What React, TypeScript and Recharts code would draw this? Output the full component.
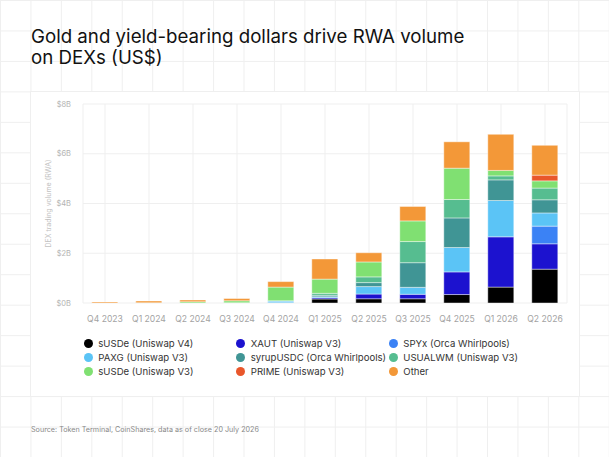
import React from 'react'
import { BarChart, Bar, XAxis, YAxis, CartesianGrid } from 'recharts'

const quarters = ['Q4 2023', 'Q1 2024', 'Q2 2024', 'Q3 2024', 'Q4 2024', 'Q1 2025', 'Q2 2025', 'Q3 2025', 'Q4 2025', 'Q1 2026', 'Q2 2026']

// volumes in US$ billions
const susdeV4 = [0, 0, 0, 0, 0, 0.16, 0.17, 0.17, 0.34, 0.64, 1.36]
const xaut = [0, 0, 0, 0, 0.01, 0.05, 0.19, 0.18, 0.91, 2.02, 1.02]
const spyx = [0, 0, 0, 0, 0, 0, 0, 0, 0, 0, 0.71]
const paxg = [0, 0, 0, 0, 0.07, 0.04, 0.3, 0.28, 0.98, 1.46, 0.53]
const syrupUsdc = [0, 0, 0, 0, 0, 0.06, 0.16, 0.99, 1.19, 0.83, 0.53]
const usualwm = [0, 0, 0, 0.01, 0.01, 0.08, 0.23, 0.85, 0.74, 0.16, 0.47]
const susdeV3 = [0, 0.01, 0.05, 0.08, 0.55, 0.57, 0.6, 0.83, 1.26, 0.22, 0.29]
const prime = [0, 0, 0, 0, 0, 0, 0, 0, 0, 0, 0.23]
const other = [0.04, 0.07, 0.07, 0.09, 0.22, 0.81, 0.37, 0.58, 1.06, 1.45, 1.2]

const yTicks = [0, 2, 4, 6, 8]

const series = [
  { key: 'susdeV4', name: 'sUSDe (Uniswap V4)', color: '#000000', values: susdeV4 },
  { key: 'xaut', name: 'XAUT (Uniswap V3)', color: '#1c12cf', values: xaut },
  { key: 'spyx', name: 'SPYx (Orca Whirlpools)', color: '#3b82f5', values: spyx },
  { key: 'paxg', name: 'PAXG (Uniswap V3)', color: '#5bc4f6', values: paxg },
  { key: 'syrupUsdc', name: 'syrupUSDC (Orca Whirlpools)', color: '#409595', values: syrupUsdc },
  { key: 'usualwm', name: 'USUALWM (Uniswap V3)', color: '#56bd90', values: usualwm },
  { key: 'susdeV3', name: 'sUSDe (Uniswap V3)', color: '#80e072', values: susdeV3 },
  { key: 'prime', name: 'PRIME (Uniswap V3)', color: '#e9572b', values: prime },
  { key: 'other', name: 'Other', color: '#f39838', values: other },
]

const data = quarters.map((q, i) => {
  const row: Record<string, string | number> = { quarter: q }
  series.forEach((s) => { row[s.key] = s.values[i] })
  return row
})

const font = 'Inter, "Noto Sans", sans-serif'

const App = () => {
  return (
    <div style={{
      position: 'absolute', left: 0, top: 0, width: 609, height: 457, overflow: 'hidden',
      fontFamily: font, background: '#fff',
      backgroundImage: 'linear-gradient(to right, #efefef 1px, transparent 1px), linear-gradient(to bottom, #efefef 1px, transparent 1px)',
      backgroundSize: '30.45px 30.47px',
    }}>
      <div style={{ position: 'absolute', left: 30, top: 91, width: 548, height: 304, background: '#fff', border: '1px solid #efefef' }} />
      <div style={{ position: 'absolute', left: 31, top: 25.5, fontSize: 18.7, lineHeight: '21px', color: '#111' }}>
        Gold and yield-bearing dollars drive RWA volume<br />on DEXs (US$)
      </div>

      <div style={{ position: 'absolute', left: 0, top: 0 }}>
        <BarChart width={609} height={457} data={data} barCategoryGap="20%"
          margin={{ top: 104, right: 42, bottom: 124, left: 43 }}>
          <CartesianGrid stroke="#efefef"
            verticalCoordinatesGenerator={({ offset }: any) => {
              const step = offset.width / quarters.length
              return [offset.left, ...quarters.map((_, i) => offset.left + step * (i + 0.5)), offset.left + offset.width]
            }} />
          <XAxis dataKey="quarter" height={30} tickLine={false} axisLine={false} tickSize={0} tickMargin={13}
            interval={0} tick={{ fill: '#a3a3a3', fontSize: 8.6, fontFamily: font }} />
          <YAxis width={40} domain={[0, 8]} ticks={yTicks} tickFormatter={(v) => `$${v}B`}
            tickLine={false} axisLine={false} tickSize={0} tickMargin={12}
            tick={{ fill: '#b3b3b3', fontSize: 7.5, fontFamily: font }}
            label={{ value: 'DEX trading volume (RWA)', angle: -90, position: 'insideLeft', offset: 0, dx: 6,
              style: { fill: '#c2c2c2', fontSize: 7, fontFamily: font, textAnchor: 'middle' } }} />
          {series.map((s) => (
            <Bar key={s.key} dataKey={s.key} name={s.name} stackId="a" fill={s.color}
              stroke="#ffffff" strokeOpacity={0.6} strokeWidth={0.7} isAnimationActive={false} />
          ))}
        </BarChart>
      </div>

      <div style={{ position: 'absolute', left: 83.8, top: 336, display: 'grid', gridTemplateColumns: '152.5px 152.5px 160px', rowGap: 0 }}>
        {series.map((s) => (
          <div key={s.key} style={{ display: 'flex', alignItems: 'center', height: 14.3, fontSize: 9.6, color: '#333' }}>
            <span style={{ width: 9, height: 9, borderRadius: '50%', background: s.color, marginRight: 5.5, flexShrink: 0 }} />
            {s.name}
          </div>
        ))}
      </div>

      <div style={{ position: 'absolute', left: 31, top: 425.5, fontSize: 7.2, lineHeight: 1, color: '#888' }}>
        Source: Token Terminal, CoinShares, data as of close 20 July 2026
      </div>
    </div>
  )
}

export default App
